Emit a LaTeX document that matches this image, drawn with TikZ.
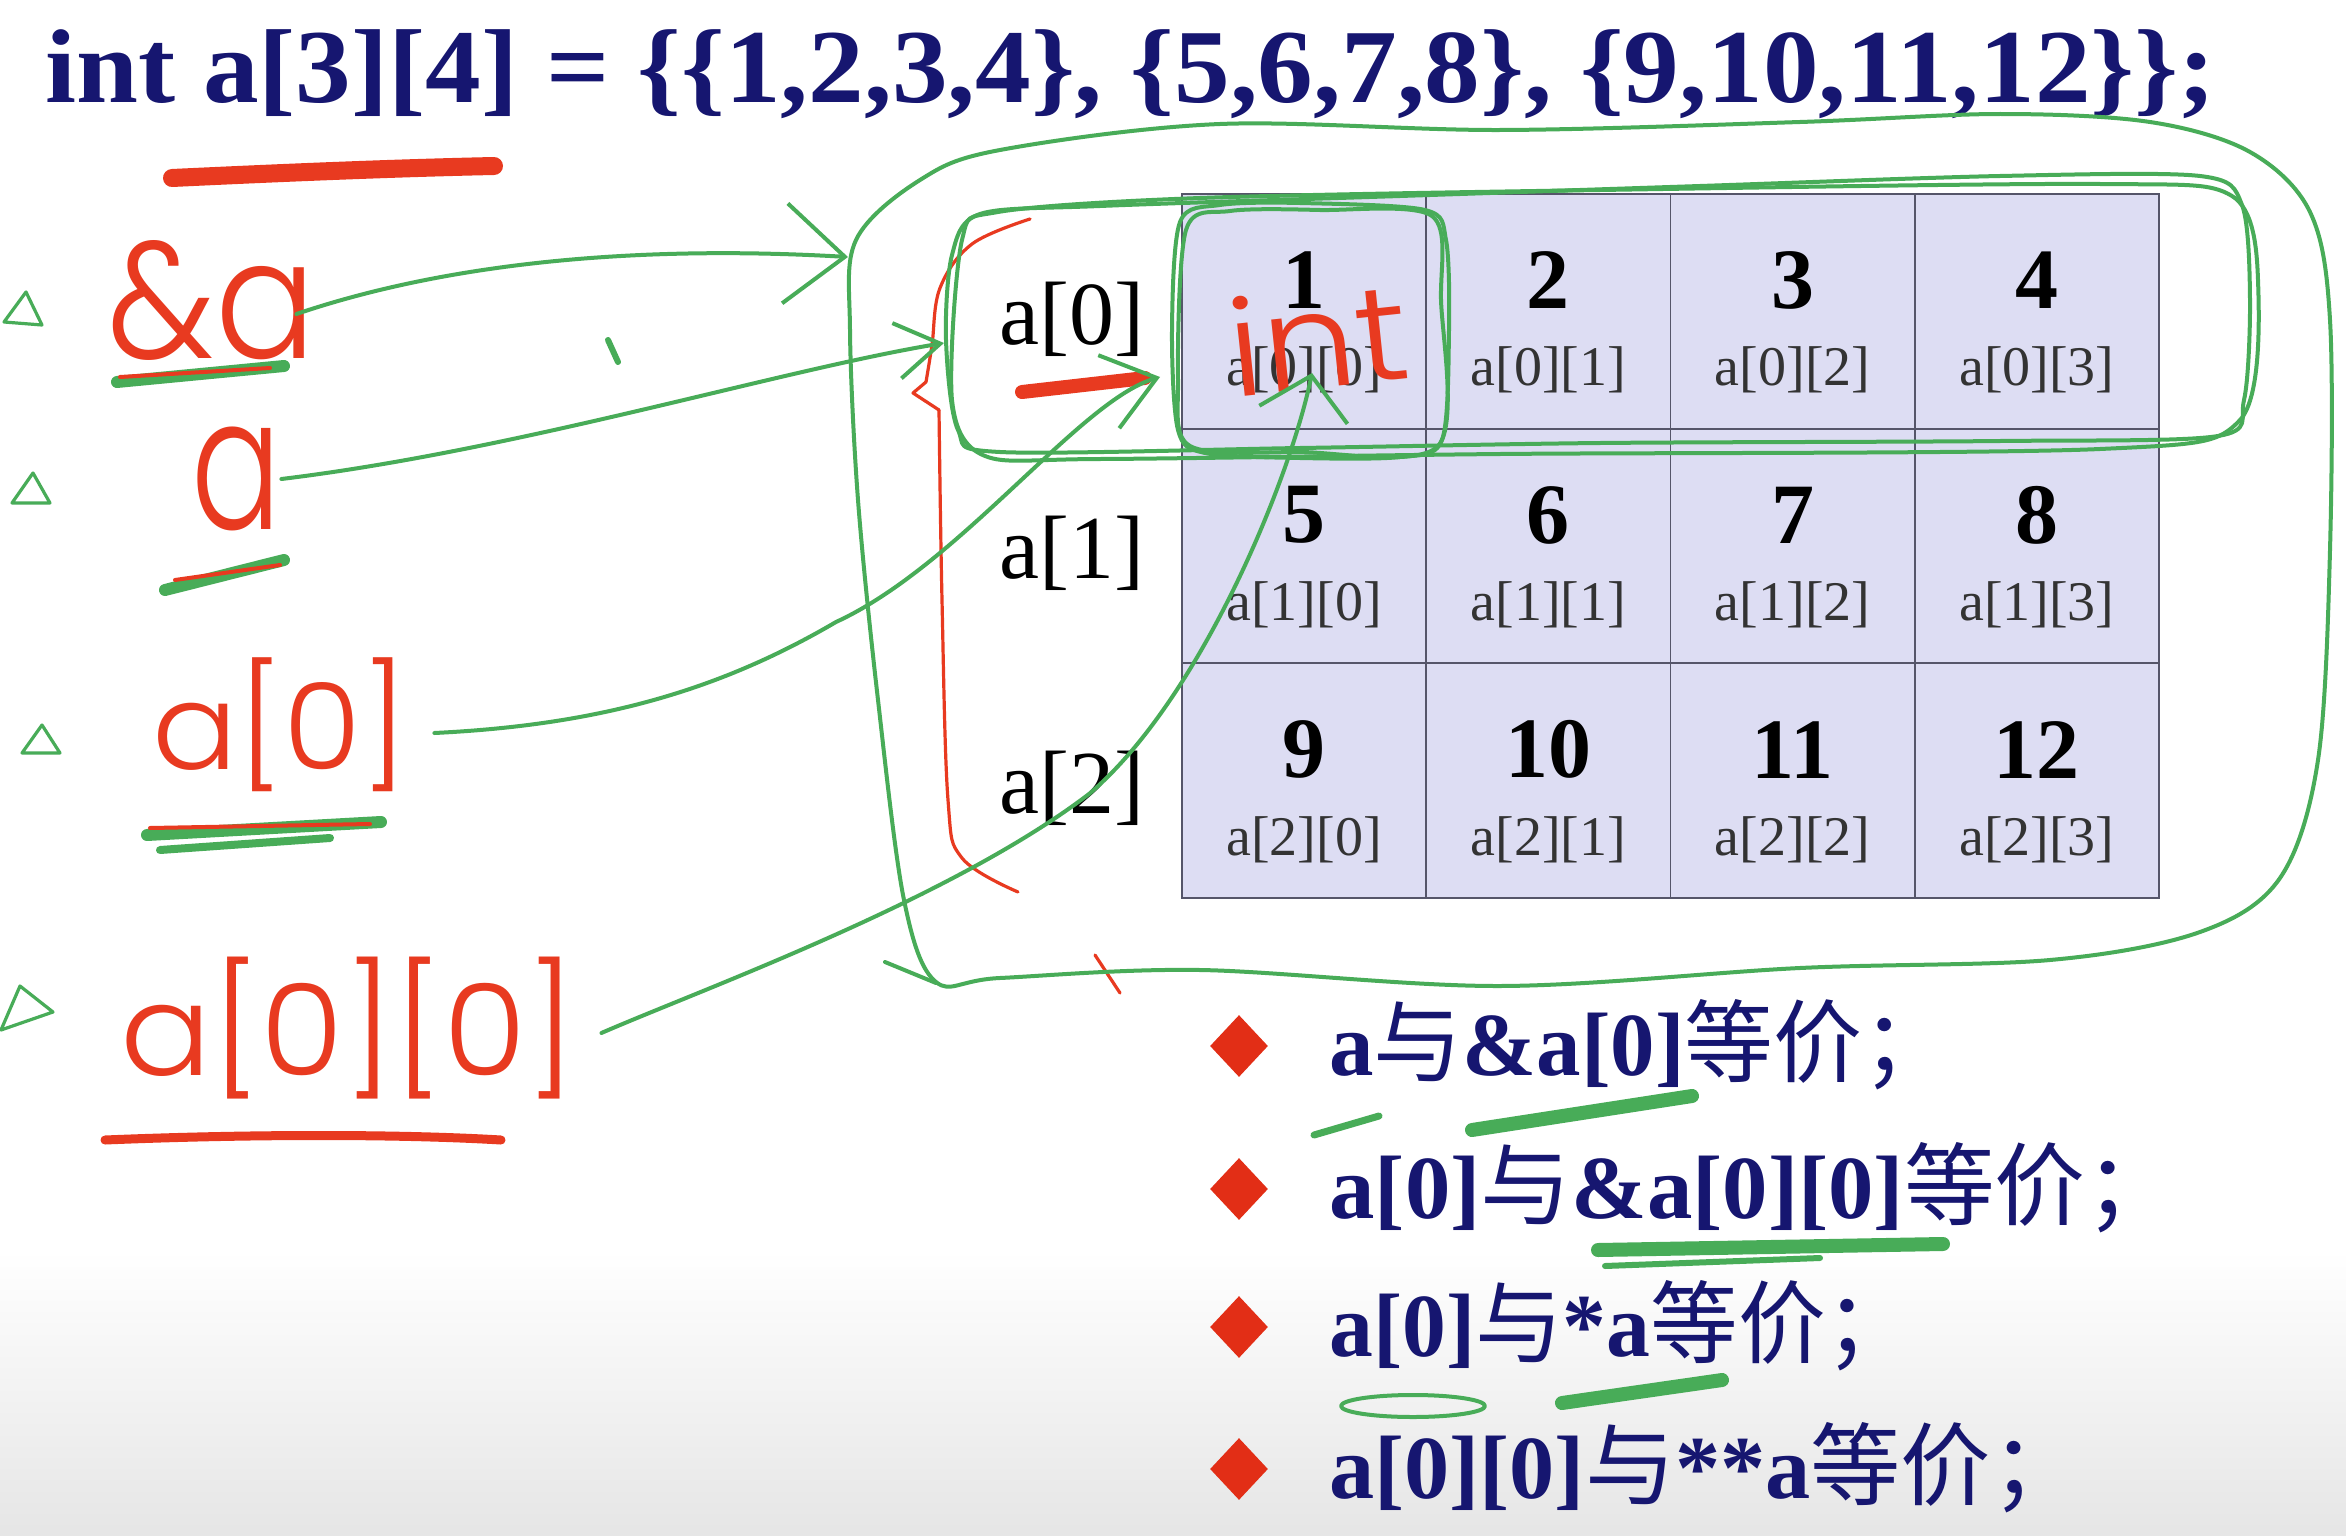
\documentclass[tikz,border=0pt]{standalone}
\usepackage{fontspec}
\usepackage{graphicx}
\setmainfont{Liberation Serif}
\newfontfamily\cjkfont{Noto Sans CJK SC}
\newfontfamily\handfont{Poppins Light}
\newcommand\zhc[1]{{\cjkfont\mdseries #1}}
\usetikzlibrary{arrows.meta,shapes.geometric,calc}
\definecolor{navy}{RGB}{22,22,112}
\definecolor{penc}{RGB}{72,172,88}
\definecolor{inkc}{RGB}{232,58,32}
\definecolor{cellfill}{RGB}{221,221,243}
\definecolor{cellline}{RGB}{85,85,105}
\definecolor{bulc}{RGB}{226,46,22}
\tikzset{
  pen/.style={draw=penc, line width=2pt, line cap=round, line join=round},
  inkpen/.style={draw=inkc, line width=1.6pt, line cap=round, line join=round},
  gmark/.style={draw=penc, line width=6pt, line cap=round},
  rmark/.style={draw=inkc, line width=6pt, line cap=round},
  cellbox/.style={draw=cellline, fill=cellfill, line width=0.9pt, minimum width=122.2pt, minimum height=117.4pt, inner sep=0pt},
  num/.style={font=\fontsize{43}{45}\selectfont\bfseries, inner sep=0pt},
  idx/.style={font=\fontsize{28}{30}\selectfont, text=black!80, inner sep=0pt},
  rowlab/.style={font=\fontsize{45}{48}\selectfont, inner sep=0pt},
  hand/.style={text=inkc, inner sep=0pt, font=\handfont},
  bul/.style={diamond, fill=bulc, minimum width=29pt, minimum height=31pt, inner sep=0pt},
  bultext/.style={anchor=base west, inner sep=0pt, text=navy, font=\fontsize{45}{50}\selectfont\bfseries},
  tipA/.style={-{Straight Barb[length=30pt,width=50pt]}},
  tipB/.style={-{Straight Barb[length=22pt,width=28pt]}},
  tipC/.style={-{Straight Barb[length=25pt,width=38pt]}},
  tipD/.style={-{Straight Barb[length=20pt,width=45pt]}},
}
\begin{document}
\begin{tikzpicture}[x=0.5pt,y=-0.5pt]
\useasboundingbox (0,0) rectangle (2346,1536);
\fill[white] (0,0) rectangle (2346,1536);
\shade[top color=white, bottom color=black!10] (0,1250) rectangle (2346,1536);

% title
\node[anchor=base west, inner sep=0pt, text=navy] (title) at (45,103)
  {\resizebox{1085pt}{\height}{\fontsize{52.5}{56}\selectfont\bfseries int a[3][4] = \{\{1,2,3,4\}, \{5,6,7,8\}, \{9,10,11,12\}\};}};

% grid
\foreach \i in {0,1,2}{
  \foreach \j in {0,1,2,3}{
    \pgfmathsetmacro\cx{1304.1+244.25*\j}
    \pgfmathsetmacro\cy{311.3+234.7*\i}
    \pgfmathtruncatemacro\n{4*\i+\j+1}
    \node[cellbox] (c\i\j) at (\cx,\cy) {};
    \node[num] (n\i\j) at ($(c\i\j.center)+(0,-31)$) {\n};
    \node[idx] (l\i\j) at ($(c\i\j.center)+(0,59)$) {a[\i][\j]};
  }
}
\node[rowlab] (r0) at (1072,319) {a[0]};
\node[rowlab] (r1) at (1072,553) {a[1]};
\node[rowlab] (r2) at (1072,788) {a[2]};

% bullets
\node[bul] (b1) at (1239,1046) {};
\node[bul] (b2) at (1239,1189) {};
\node[bul] (b3) at (1239,1327) {};
\node[bul] (b4) at (1239,1469) {};
\node[bultext] (t1) at (1329,1075) {\resizebox{311pt}{\height}{a\zhc{与}\&a[0]\zhc{等价；}}};
\node[bultext] (t2) at (1329,1218) {\resizebox{423.5pt}{\height}{a[0]\zhc{与}\&a[0][0]\zhc{等价；}}};
\node[bultext] (t3) at (1329,1356) {\resizebox{292pt}{\height}{a[0]\zhc{与}*a\zhc{等价；}}};
\node[bultext] (t4) at (1329,1498) {\resizebox{376pt}{\height}{a[0][0]\zhc{与}**a\zhc{等价；}}};

% handwritten labels
\node[hand] (ha) at (212,300) {\resizebox*{104pt}{60pt}{\&a}};
\node[hand] (hb) at (236,479) {\resizebox*{45pt}{52pt}{a}};
\node[hand] (hc) at (280,725) {\resizebox*{128pt}{67pt}{a[0]}};
\node[hand] (hd) at (348,1028) {\resizebox*{228pt}{71pt}{a[0][0]}};
\node[hand, rotate=6] (hint) at (1318,338) {\resizebox*{90pt}{50pt}{int}};

% left green triangles
\draw[pen, line width=1.6pt] (4,322) -- (26,292) -- (42,325) -- cycle;
\draw[pen, line width=1.6pt] (12,503) -- (33,473) -- (50,503) -- cycle;
\draw[pen, line width=1.6pt] (22,753) -- (42,725) -- (60,753) -- cycle;
\draw[pen, line width=1.6pt] (1,1030) -- (20,986) -- (53,1012) -- cycle;

% underlines
\draw[rmark, line width=9pt] (172,178) .. controls (300,172) and (400,168) .. (494,166);
\draw[gmark] (117,382) -- (284,366);
\draw[inkpen, line width=2pt] (120,377) -- (270,368);
\draw[gmark] (165,590) -- (284,560);
\draw[inkpen, line width=2pt] (175,580) -- (280,565);
\draw[gmark] (147,835) -- (381,822);
\draw[gmark, line width=4pt] (160,850) -- (330,838);
\draw[inkpen, line width=2pt] (150,828) -- (370,824);
\draw[rmark, line width=4.5pt] (105,1140) .. controls (250,1134) and (400,1134) .. (501,1140);
\draw[rmark, line width=7pt] (1022,392) -- (1145,378);
\draw[gmark, line width=3.5pt] (1314,1135) -- (1379,1116);
\draw[gmark, line width=7pt] (1472,1130) -- (1692,1096);
\draw[gmark, line width=7pt] (1598,1250) -- (1943,1244);
\draw[gmark, line width=3pt] (1605,1266) -- (1820,1258);
\draw[pen] (1413,1406) ellipse [x radius=72, y radius=11];
\draw[gmark, line width=7pt] (1562,1403) -- (1722,1380);

% red brace and marks
\draw[inkpen] plot[smooth, tension=0.6] coordinates {(1030,219) (972,244) (940,288) (932,345) (926,382)};
\draw[inkpen] (926,382) -- (913,393) -- (939,410);
\draw[inkpen] plot[smooth, tension=0.6] coordinates {(939,410) (942,600) (948,800) (962,858) (1018,892)};
\draw[inkpen] (1095,955) -- (1120,993);

% green loops
\draw[pen] plot[smooth cycle, tension=0.55] coordinates {(856,240) (920,180) (1000,150) (1220,124) (1500,130) (1800,122) (2000,114) (2150,122) (2250,152) (2310,212) (2330,320) (2330,550) (2318,760) (2280,878) (2200,932) (2050,960) (1800,968) (1500,986) (1200,970) (1000,978) (936,982) (904,900) (878,700) (858,500) (850,330)};
\draw[pen] (885,962) -- (936,983);
\draw[pen] plot[smooth cycle, tension=0.5] coordinates {(952,255) (980,214) (1100,206) (1400,196) (1700,186) (2000,176) (2200,176) (2242,205) (2250,300) (2244,400) (2218,436) (2000,441) (1600,443) (1300,448) (1000,452) (958,430) (946,340)};
\draw[pen] plot[smooth cycle, tension=0.5] coordinates {(962,240) (998,212) (1200,198) (1600,190) (2100,184) (2232,196) (2258,280) (2240,420) (2100,449) (1500,454) (1100,459) (985,456) (952,400)};
\draw[pen] plot[smooth cycle, tension=0.5] coordinates {(1180,222) (1220,205) (1300,203) (1425,210) (1446,240) (1449,330) (1442,440) (1400,457) (1300,458) (1205,453) (1178,430) (1172,330)};
\draw[pen] plot[smooth cycle, tension=0.5] coordinates {(1186,230) (1230,211) (1320,210) (1432,216) (1441,300) (1438,446) (1300,452) (1190,446) (1178,380)};
\draw[pen, line width=3pt] (608,340) -- (618,362);

% connectors
\coordinate (tA) at (848,257);
\coordinate (tB) at (944,343);
\coordinate (tC) at (1160,377);
\coordinate (tD) at (1312,373);
\draw[pen, tipA] ($(ha.east)+(-20,14)$) .. controls (450,262) and (640,245) .. (tA);
\draw[pen, tipB] (hb.east) .. controls (520,450) and (780,370) .. (tB);
\draw[pen, tipC] ($(hc.east)+(26,8)$) .. controls (600,725) and (720,690) .. (836,622)
   .. controls (960,565) and (1080,400) .. (tC);
\draw[pen, tipD] ($(hd.east)+(25,5)$) .. controls (700,990) and (950,900) .. (1089,794)
   .. controls (1200,700) and (1290,480) .. (tD);
\end{tikzpicture}
\end{document}
